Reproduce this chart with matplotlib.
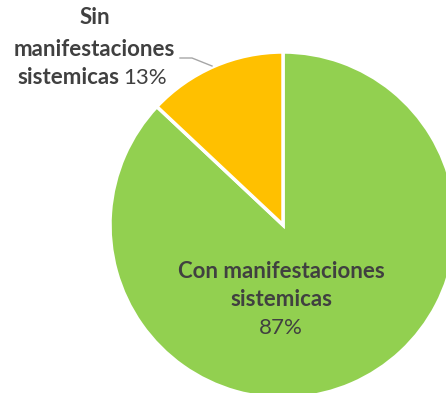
import matplotlib.pyplot as plt

labels = ['Con manifestaciones\nsistemicas', 'Sin\nmanifestaciones\nsistemicas']
values = [87, 13]
colors = ['#92D050', '#FFC000']
text_color = '#404040'

plt.rcParams['font.family'] = ['Lato', 'DejaVu Sans']
fs = 16

fig = plt.figure(figsize=(4.46, 3.93), dpi=100)
ax = fig.add_axes([0, 0, 1, 1])

ax.pie(values, colors=colors, startangle=90, counterclock=False,
       center=(283, 168), radius=173, frame=True,
       wedgeprops=dict(edgecolor='white', linewidth=2.5))
ax.set_xlim(0, 446)
ax.set_ylim(0, 393)
ax.set_aspect('equal')
ax.axis('off')

pct = [f'{v}%' for v in values]

# big slice label, one line at a time
big_lines = labels[0].split('\n')
ax.text(281, 393 - 272, big_lines[0], ha='center', va='center', fontsize=fs,
        fontweight='bold', color=text_color)
ax.text(281, 393 - 300, big_lines[1], ha='center', va='center', fontsize=fs,
        fontweight='bold', color=text_color)
ax.text(281, 393 - 328, pct[0], ha='center', va='center', fontsize=fs,
        color=text_color)

# small slice label (outside, with leader line)
small_lines = labels[1].split('\n')
ax.text(95, 393 - 18, small_lines[0], ha='center', va='center', fontsize=fs,
        fontweight='bold', color=text_color)
ax.text(94, 393 - 50, small_lines[1], ha='center', va='center', fontsize=fs,
        fontweight='bold', color=text_color)
ax.text(119, 393 - 78, small_lines[2], ha='right', va='center', fontsize=fs,
        fontweight='bold', color=text_color)
ax.text(123, 393 - 78, pct[1], ha='left', va='center', fontsize=fs,
        color=text_color)
ax.plot([180, 192, 212], [393 - 58, 393 - 58, 393 - 66], color='#A6A6A6', lw=1)

fig.savefig('out.png', dpi=100)
